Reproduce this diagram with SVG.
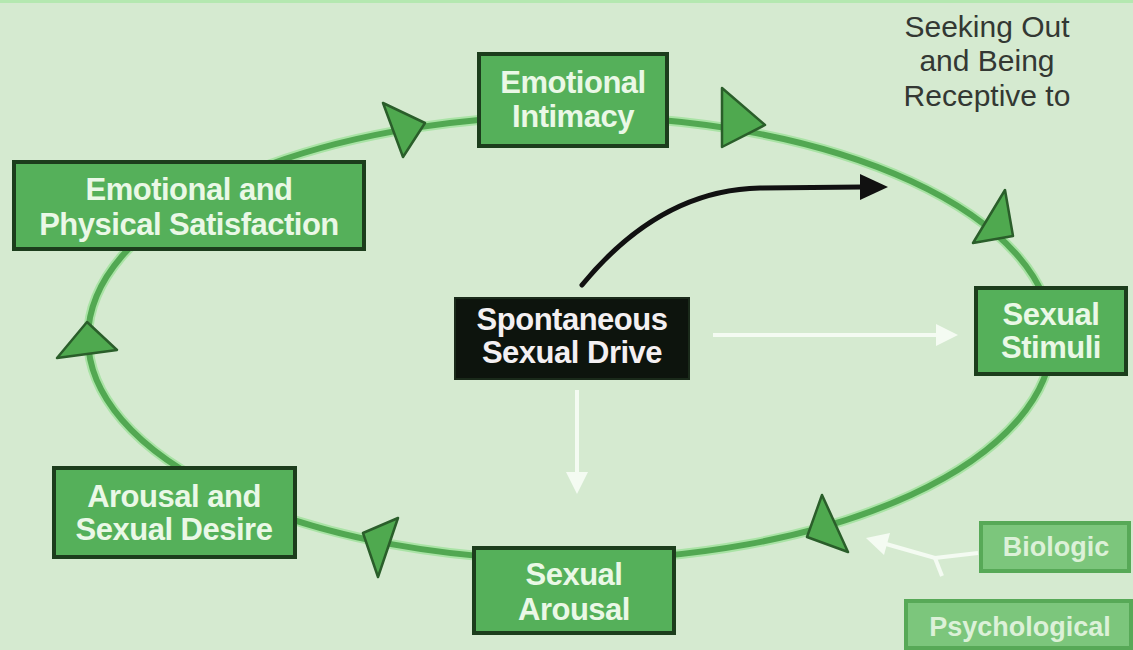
<svg xmlns="http://www.w3.org/2000/svg" width="1133" height="650" viewBox="0 0 1133 650">
<defs>
<style>
.box{fill:#55b05a;stroke:#1c3d1c;stroke-width:4}
.soft{fill:#7cc67c;stroke:#57a957;stroke-width:4}
.lbl{font-family:"Liberation Sans",Arial,sans-serif;font-weight:bold;font-size:31px;fill:#eaf8e6;text-anchor:middle;letter-spacing:-0.5px}
.lbl2{font-family:"Liberation Sans",Arial,sans-serif;font-weight:bold;font-size:27px;fill:#dcf1d8;text-anchor:middle}
.cap{font-family:"Liberation Sans",Arial,sans-serif;font-size:30px;fill:#333833;text-anchor:middle}
.head{fill:#4fa94f;stroke:#2a5e2a;stroke-width:2.5;stroke-linejoin:round}
</style>
</defs>
<rect width="1133" height="650" fill="#d5ead0"/>
<rect width="1133" height="3" fill="#b4e8b0"/>
<g id="connectors">
<ellipse cx="570" cy="338" rx="482" ry="222" fill="none" stroke="#a9e3a5" stroke-width="10"/>
<ellipse cx="570" cy="338" rx="482" ry="222" fill="none" stroke="#52a852" stroke-width="6"/>
<polygon class="head" points="383,103 425,123 403,157"/>
<polygon class="head" points="722,88 765,125 722,147"/>
<polygon class="head" points="1005,190 1013,236 973,243"/>
<polygon class="head" points="822,495 848,552 807,537"/>
<polygon class="head" points="398,518 363,533 378,577"/>
<polygon class="head" points="87,322 117,350 57,358"/>
<path d="M582,285 Q660,190 760,188 L862,187" fill="none" stroke="#111" stroke-width="5" stroke-linecap="round"/>
<path d="M860,174 L888,187 L860,200 Z" fill="#111"/>
<path d="M713,335 L938,335" fill="none" stroke="#f4fbf2" stroke-width="4"/>
<path d="M936,324 L958,335 L936,346 Z" fill="#f4fbf2"/>
<path d="M577,390 L577,475" fill="none" stroke="#f4fbf2" stroke-width="4"/>
<path d="M566,472 L577,494 L588,472 Z" fill="#f4fbf2"/>
<path d="M978,553 L935,558 L886,544" fill="none" stroke="#f4fbf2" stroke-width="4"/>
<path d="M935,558 L942,576" fill="none" stroke="#f4fbf2" stroke-width="4"/>
<path d="M890,533 L866,538 L884,555 Z" fill="#f4fbf2"/>
</g>
<g id="emotional-intimacy">
<rect class="box" x="479" y="54" width="188" height="92"/>
<text class="lbl" x="573" y="93">Emotional</text>
<text class="lbl" x="573" y="127">Intimacy</text>
</g>
<g id="satisfaction">
<rect class="box" x="14" y="162" width="350" height="87"/>
<text class="lbl" x="189" y="200">Emotional and</text>
<text class="lbl" x="189" y="235">Physical Satisfaction</text>
</g>
<g id="spontaneous-drive">
<rect x="455" y="298" width="234" height="81" fill="#0d140d" stroke="#1a2a1a" stroke-width="2"/>
<text class="lbl" x="572" y="330" style="fill:#f4f0f2">Spontaneous</text>
<text class="lbl" x="572" y="363" style="fill:#f4f0f2">Sexual Drive</text>
</g>
<g id="sexual-stimuli">
<rect class="box" x="976" y="288" width="150" height="86"/>
<text class="lbl" x="1051" y="325">Sexual</text>
<text class="lbl" x="1051" y="358">Stimuli</text>
</g>
<g id="arousal-desire">
<rect class="box" x="54" y="468" width="241" height="89"/>
<text class="lbl" x="174" y="507">Arousal and</text>
<text class="lbl" x="174" y="540">Sexual Desire</text>
</g>
<g id="sexual-arousal">
<rect class="box" x="474" y="548" width="200" height="85"/>
<text class="lbl" x="574" y="585">Sexual</text>
<text class="lbl" x="574" y="620">Arousal</text>
</g>
<g id="biologic">
<rect class="soft" x="981" y="523" width="148" height="48"/>
<text class="lbl2" x="1056" y="556">Biologic</text>
</g>
<g id="psychological">
<rect class="soft" x="906" y="601" width="225" height="47"/>
<text class="lbl2" x="1020" y="636">Psychological</text>
</g>
<g id="seeking-label">
<text class="cap" x="987" y="37">Seeking Out</text>
<text class="cap" x="987" y="71">and Being</text>
<text class="cap" x="987" y="106">Receptive to</text>
</g>
</svg>
